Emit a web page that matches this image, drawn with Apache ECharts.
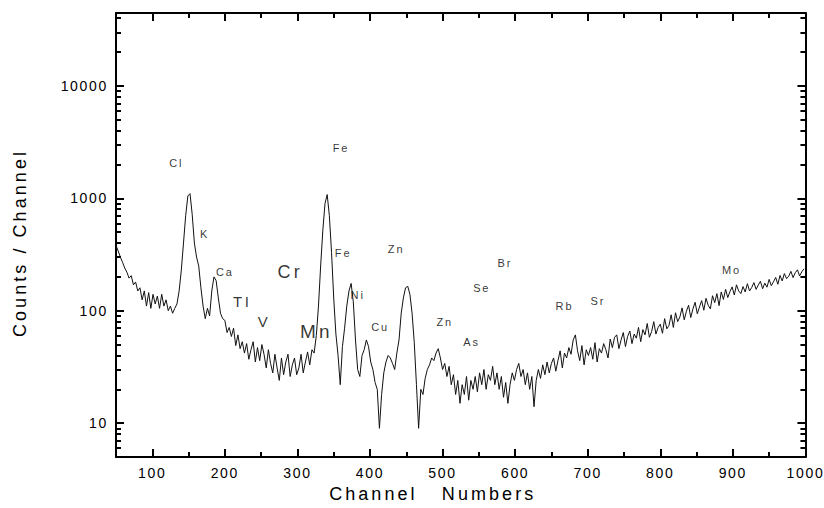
<!DOCTYPE html>
<html>
<head>
<meta charset="utf-8">
<script src="https://cdn.jsdelivr.net/npm/echarts@6.0.0/dist/echarts.min.js"></script>
<style>
  html, body { margin: 0; padding: 0; background: #fff; }
  #chart { width: 824px; height: 508px; }
  /* the original export uses spaced-out lettering */
  #chart text { letter-spacing: 0.17em; }
  #chart text[style*="14px"] { letter-spacing: 0.12em; }
</style>
</head>
<body>
<div id="chart"></div>
<script>
// spectrum, every 3 channels starting at channel 50
const startChannel = 50
const channelStep = 3
const counts = [
  380, 340, 300, 270, 240, 220, 195, 205, 170, 180,   // 50
  150, 160, 125, 150, 110, 145, 105, 140, 115, 135,   // 80
  105, 140, 110, 125, 100, 110, 95, 105, 115, 150,    // 110
  230, 400, 700, 1050, 1100, 720, 400, 300, 250, 160, // 140
  110, 85, 105, 90, 150, 200, 185, 130, 95, 85,       // 170
  82, 64, 71, 59, 70, 49, 61, 46, 53, 42,             // 200
  51, 37, 45, 53, 35, 47, 36, 50, 41, 31,             // 230
  45, 34, 28, 41, 31, 24, 38, 27, 35, 41,             // 260
  26, 33, 38, 27, 31, 41, 28, 35, 43, 33,             // 290
  45, 42, 60, 110, 250, 520, 900, 1080, 700, 330,     // 320
  130, 62, 40, 22, 48, 70, 110, 150, 175, 120,        // 350
  55, 30, 26, 40, 45, 55, 48, 35, 30, 23,             // 380
  20, 9, 18, 28, 35, 40, 38, 34, 30, 42,              // 410
  55, 95, 130, 160, 165, 140, 95, 52, 22, 9,          // 440
  20, 18, 25, 30, 33, 38, 36, 42, 46, 38,             // 470
  30, 34, 26, 32, 22, 27, 18, 24, 15, 22,             // 500
  18, 26, 16, 24, 20, 26, 19, 28, 22, 30,             // 530
  20, 27, 24, 32, 22, 28, 20, 26, 17, 23,             // 560
  15, 22, 28, 24, 30, 34, 26, 30, 22, 28,             // 590
  20, 26, 14, 24, 30, 25, 33, 27, 35, 28,             // 620
  34, 38, 29, 36, 44, 31, 42, 38, 47, 41,             // 650
  55, 61, 44, 36, 49, 33, 45, 40, 47, 37,             // 680
  52, 35, 46, 42, 51, 45, 38, 56, 47, 58,             // 710
  61, 46, 55, 64, 48, 59, 66, 51, 62, 57,             // 740
  71, 53, 68, 61, 77, 58, 65, 80, 62, 71,             // 770
  76, 63, 85, 69, 74, 92, 71, 96, 80, 88,             // 800
  106, 83, 99, 112, 87, 104, 119, 94, 108, 123,       // 830
  101, 129, 112, 104, 136, 118, 142, 111, 147, 126,   // 860
  155, 131, 148, 163, 138, 170, 150, 142, 164, 147,   // 890
  174, 150, 161, 178, 155, 169, 183, 157, 176, 162,   // 920
  190, 167, 181, 198, 172, 206, 184, 214, 193, 203,   // 950
  224, 197, 218, 231, 204, 222, 236                   // 980
]

const xMajorTicks = [100, 200, 300, 400, 500, 600, 700, 800, 900, 1000]
const xMinorTicks = [150, 250, 350, 450, 550, 650, 750, 850, 950]
const yMajorTicks = [10, 100, 1000, 10000]
const yMinorTicks = [5, 6, 7, 8, 9, 20, 30, 40, 50, 60, 70, 80, 90,
  200, 300, 400, 500, 600, 700, 800, 900,
  2000, 3000, 4000, 5000, 6000, 7000, 8000, 9000, 20000, 30000, 40000]

// element labels written on the plot
const elementNames = ['Cl', 'K', 'Ca', 'TI', 'V', 'Cr', 'Mn', 'Fe', 'Fe', 'Ni', 'Cu', 'Zn', 'Zn', 'As', 'Se', 'Br', 'Rb', 'Sr', 'Mo']
const elementChannels = [133, 172, 200, 224, 254, 290, 326, 360, 363, 383, 414, 436, 503, 540, 554, 586, 668, 714, 898]
const elementCounts = [2070, 485, 219, 121, 80, 219, 65, 2810, 329, 137, 71, 357, 80, 53, 158, 268, 111, 123, 228]

const labelSize = { Cr: 18, Mn: 19, TI: 15, V: 15 }

const FONT = '"Liberation Sans", Arial, sans-serif'
const X_MIN = 50, X_MAX = 1000
const Y_MIN = 5, Y_MAX = 44500

const frameLine = { show: true, onZero: false, lineStyle: { color: '#000', width: 2 } }
const tickStyle = { color: '#000', width: 2 }

function xAxisFor(position, ticks, len, main) {
  return {
    type: 'value', position: position, min: X_MIN, max: X_MAX,
    axisLine: main ? frameLine : { show: false },
    axisTick: { show: true, inside: true, length: len, customValues: ticks, lineStyle: tickStyle },
    axisLabel: {
      show: main && position === 'bottom', customValues: xMajorTicks, margin: 9,
      formatter: v => String(v),
      color: '#000', fontFamily: FONT, fontSize: 14
    },
    splitLine: { show: false }
  }
}

function yAxisFor(position, ticks, len, main) {
  return {
    type: 'log', logBase: 10, position: position, min: Y_MIN, max: Y_MAX,
    axisLine: main ? frameLine : { show: false },
    axisTick: { show: true, inside: true, length: len, customValues: ticks, lineStyle: tickStyle },
    axisLabel: {
      show: main && position === 'left', customValues: yMajorTicks, margin: 8,
      formatter: v => String(Math.round(v)),
      color: '#000', fontFamily: FONT, fontSize: 14
    },
    splitLine: { show: false }
  }
}

const xAxes = [
  xAxisFor('bottom', xMajorTicks, 8, true),
  xAxisFor('bottom', xMinorTicks, 5, false),
  xAxisFor('top', xMajorTicks, 8, true),
  xAxisFor('top', xMinorTicks, 5, false)
]
xAxes[0].name = 'Channel   Numbers'
xAxes[0].nameLocation = 'middle'
xAxes[0].nameGap = 28
xAxes[0].nameTextStyle = { color: '#000', fontFamily: FONT, fontSize: 18, padding: [0, 56, 0, 0] }

const yAxes = [
  yAxisFor('left', yMajorTicks, 8, true),
  yAxisFor('left', yMinorTicks, 5, false),
  yAxisFor('right', yMajorTicks, 8, true),
  yAxisFor('right', yMinorTicks, 5, false)
]
yAxes[0].name = 'Counts / Channel'
yAxes[0].nameLocation = 'middle'
yAxes[0].nameGap = 87
yAxes[0].nameTextStyle = { color: '#000', fontFamily: FONT, fontSize: 18, padding: [0, 16, 0, 0] }

const spectrum = counts.map((c, i) => [startChannel + i * channelStep, c])

const labels = elementNames.map((name, i) => ({
  name: name,
  value: [elementChannels[i], elementCounts[i]],
  label: { fontSize: labelSize[name] || 11 }
}))

const chart = echarts.init(document.getElementById('chart'), null, { renderer: 'svg' })
chart.setOption({
  backgroundColor: '#fff',
  animation: false,
  grid: { left: 116, right: 18, top: 13, bottom: 50 },
  xAxis: xAxes,
  yAxis: yAxes,
  series: [
    {
      type: 'line',
      xAxisIndex: 0,
      yAxisIndex: 0,
      data: spectrum,
      symbol: 'none',
      lineStyle: { color: '#111', width: 1 }
    },
    {
      type: 'scatter',
      xAxisIndex: 0,
      yAxisIndex: 0,
      symbolSize: 0,
      silent: true,
      data: labels,
      label: {
        show: true,
        position: 'inside',
        formatter: '{b}',
        color: '#000',
        fontFamily: FONT
      }
    }
  ]
})
</script>
</body>
</html>
